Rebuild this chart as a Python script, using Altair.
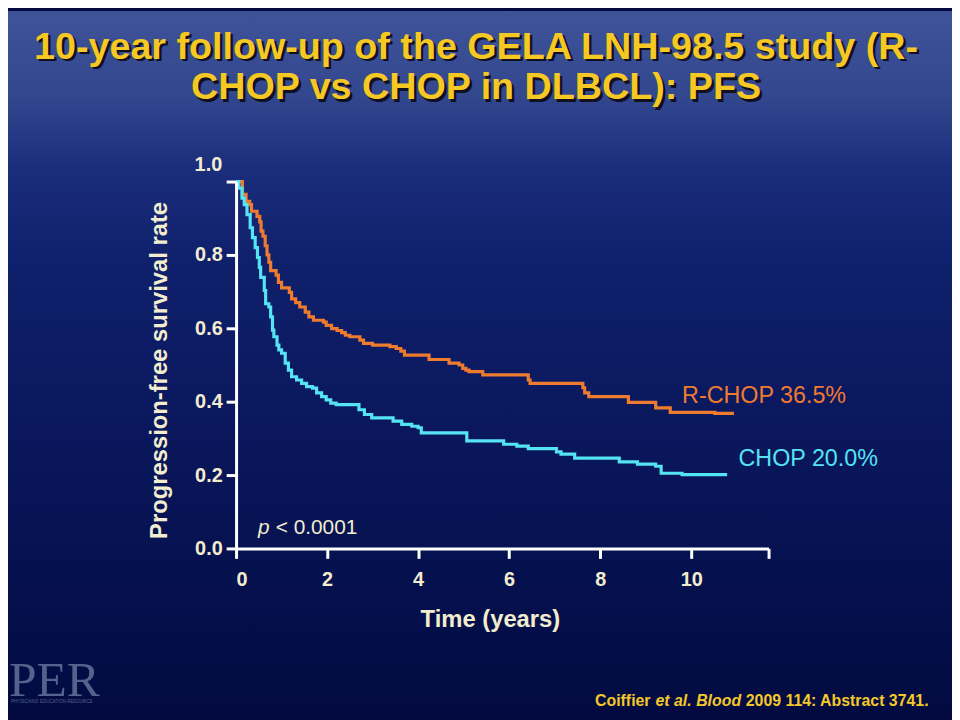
import altair as alt
import pandas as pd

# ---- data (Kaplan-Meier steps: time in years, PFS) ----
rchop_t = [0, 0.14, 0.22, 0.30, 0.34, 0.46, 0.52, 0.55, 0.59, 0.64, 0.68, 0.72, 0.76, 0.88, 0.93,
           1.00, 1.17, 1.22, 1.31, 1.40, 1.52, 1.60, 1.70, 1.92, 1.98, 2.10, 2.22, 2.32, 2.40, 2.50,
           2.72, 2.80, 3.00, 3.38, 3.52, 3.62, 3.70, 4.24, 4.68, 4.90, 4.98, 5.05, 5.12, 5.42, 6.42,
           6.46, 7.62, 7.66, 7.75, 8.62, 9.22, 9.54, 10.52, 10.94]
rchop_s = [1.0, 0.965, 0.946, 0.937, 0.919, 0.905, 0.89, 0.865, 0.851, 0.825, 0.80, 0.78, 0.757, 0.745, 0.725,
           0.71, 0.698, 0.68, 0.67, 0.658, 0.644, 0.631, 0.622, 0.617, 0.608, 0.599, 0.594, 0.588, 0.581, 0.577,
           0.568, 0.559, 0.554, 0.550, 0.545, 0.538, 0.527, 0.515, 0.505, 0.50, 0.491, 0.486, 0.482, 0.473, 0.459,
           0.45, 0.438, 0.424, 0.414, 0.398, 0.383, 0.371, 0.368, 0.368]

chop_t = [0, 0.06, 0.13, 0.18, 0.24, 0.31, 0.36, 0.42, 0.47, 0.51, 0.54, 0.62, 0.65, 0.72, 0.76, 0.80,
          0.83, 0.90, 0.94, 1.00, 1.08, 1.15, 1.22, 1.33, 1.44, 1.55, 1.68, 1.77, 1.88, 1.98, 2.08, 2.20,
          2.70, 2.82, 2.98, 3.45, 3.64, 3.86, 4.00, 4.07, 5.07, 5.88, 6.17, 6.42, 7.04, 7.14, 7.44, 8.42,
          8.82, 9.22, 9.34, 9.80, 10.79]
chop_s = [1.0, 0.982, 0.955, 0.937, 0.91, 0.874, 0.847, 0.82, 0.793, 0.766, 0.739, 0.703, 0.667, 0.658, 0.631, 0.595,
          0.577, 0.554, 0.541, 0.532, 0.505, 0.486, 0.468, 0.459, 0.45, 0.441, 0.437, 0.424, 0.414, 0.405, 0.396, 0.392,
          0.378, 0.365, 0.356, 0.347, 0.338, 0.333, 0.329, 0.315, 0.293, 0.284, 0.279, 0.272, 0.263, 0.257, 0.246, 0.236,
          0.23, 0.224, 0.205, 0.201, 0.201]

arms = ["R-CHOP", "CHOP"]
arm_colors = ["#ef7b30", "#55e4f3"]
end_labels = ["R-CHOP 36.5%", "CHOP 20.0%"]
label_x = [9.80, 11.04]
label_y = [0.397, 0.226]

x_ticks = [0, 2, 4, 6, 8, 10, 11.7]
y_ticks = [0.0, 0.2, 0.4, 0.6, 0.8, 1.0]

title_lines = ["10-year follow-up of the GELA LNH-98.5 study (R-", "CHOP vs CHOP in DLBCL): PFS"]

# ---- layout ----
W, H = 537, 370
PAD = {"left": 230, "top": 172, "right": 185, "bottom": 170}
CREAM = "#f3edcf"
GOLD = "#f6c823"
SANS = "Liberation Sans"

df = pd.concat([
    pd.DataFrame({"t": rchop_t, "s": rchop_s, "arm": arms[0]}),
    pd.DataFrame({"t": chop_t, "s": chop_s, "arm": arms[1]}),
])

bg = alt.Chart(pd.DataFrame({"a": [0]})).mark_rect(
    fill=alt.Gradient(
        gradient="linear", x1=0, x2=0, y1=0, y2=1,
        stops=[
            alt.GradientStop(color="#3f5399", offset=0.0),
            alt.GradientStop(color="#33478f", offset=0.12),
            alt.GradientStop(color="#1b2e7b", offset=0.22),
            alt.GradientStop(color="#0f206c", offset=0.35),
            alt.GradientStop(color="#0a175c", offset=0.6),
            alt.GradientStop(color="#040f4b", offset=0.85),
            alt.GradientStop(color="#020a40", offset=1.0),
        ],
    )
).encode(
    x=alt.value(-PAD["left"]), x2=alt.value(W + PAD["right"]),
    y=alt.value(-PAD["top"]), y2=alt.value(H + PAD["bottom"]),
)

lines = alt.Chart(df).mark_line(interpolate="step-after", strokeWidth=3.2).encode(
    x=alt.X("t:Q", scale=alt.Scale(domain=[0, 11.7], nice=False, zero=False),
            axis=alt.Axis(values=x_ticks, labelExpr="datum.value > 11 ? '' : datum.label", format="d",
                          title="Time (years)", titleX=256, titleY=72, titleBaseline="middle",
                          titleAnchor="start", titleAlign="center", zindex=1, orient="bottom")),
    y=alt.Y("s:Q", scale=alt.Scale(domain=[0, 1], nice=False),
            axis=alt.Axis(values=y_ticks, format=".1f", labelExpr="datum.value > 0.99 ? '' : datum.label",
                          title="Progression-free survival rate", titleX=-77, titleY=190,
                          titleAngle=-90, titleAlign="center", titleBaseline="middle", titleAnchor="start",
                          zindex=1, orient="left")),
    color=alt.Color("arm:N", scale=alt.Scale(domain=arms, range=arm_colors), legend=None),
    detail="arm:N",
)

lab_df = pd.DataFrame({"lx": label_x, "ly": label_y, "lab": end_labels, "arm": arms})
labels = alt.Chart(lab_df).mark_text(align="left", baseline="alphabetic", font=SANS, fontSize=23.5).encode(
    x=alt.X("lx:Q"), y=alt.Y("ly:Q"), text="lab:N",
    color=alt.Color("arm:N", scale=alt.Scale(domain=arms, range=arm_colors), legend=None),
)


def txt(text, x, y, **kw):
    return alt.Chart(pd.DataFrame({"t": [text]})).mark_text(**kw).encode(
        x=alt.value(x), y=alt.value(y), text="t:N")


texts = [
    txt("1.0", -14, -17, align="right", baseline="middle", font=SANS, fontSize=20, fontWeight="bold", color=CREAM),
    txt("p", 22, 355, align="left", baseline="alphabetic", font=SANS, fontSize=21, fontStyle="italic", color=CREAM),
    txt("< 0.0001", 40, 355, align="left", baseline="alphabetic", font=SANS, fontSize=21, color=CREAM),
]
for i, line in enumerate(title_lines):
    yb = -124 + 41 * i
    texts.append(txt(line, 244.5, yb + 2.5, align="center", baseline="alphabetic", font=SANS,
                     fontSize=38, fontWeight="bold", color="#101020"))
    texts.append(txt(line, 242, yb, align="center", baseline="alphabetic", font=SANS,
                     fontSize=38, fontWeight="bold", color=GOLD))

cite = [("Coiffier", 362, "normal"), ("et al.", 423, "italic"), ("Blood", 464, "italic"),
        ("2009 114: Abstract 3741.", 514, "normal")]
for s, x, st in cite:
    texts.append(txt(s, x, 529, align="left", baseline="alphabetic", font=SANS, fontSize=16,
                     fontWeight="bold", fontStyle=st, color="#f4c72a"))

texts.append(txt("PER", -229, 519, align="left", baseline="alphabetic", font="Liberation Serif",
                 fontSize=50, color="#56618c"))
texts.append(txt("PHYSICIANS' EDUCATION RESOURCE", -227, 526, align="left", baseline="alphabetic",
                 font=SANS, fontSize=4.5, color="#56618c"))

chart = alt.layer(bg, lines, labels, *texts).properties(
    width=W, height=H,
    autosize=alt.AutoSizeParams(type="none"),
    padding=PAD,
    background="#020a40",
).configure_view(stroke=None).configure_axis(
    grid=False, zindex=1,
    domainColor="white", domainWidth=3,
    tickColor="white", tickWidth=3, tickSize=10,
    labelColor=CREAM, labelFont=SANS, labelFontSize=20, labelFontWeight="bold",
    titleColor=CREAM, titleFont=SANS, titleFontSize=24, titleFontWeight="bold",
).configure_axisY(labelPadding=4).configure_axisX(labelPadding=11)

chart.save("out.html", embed_options={"renderer": "svg", "actions": False})
